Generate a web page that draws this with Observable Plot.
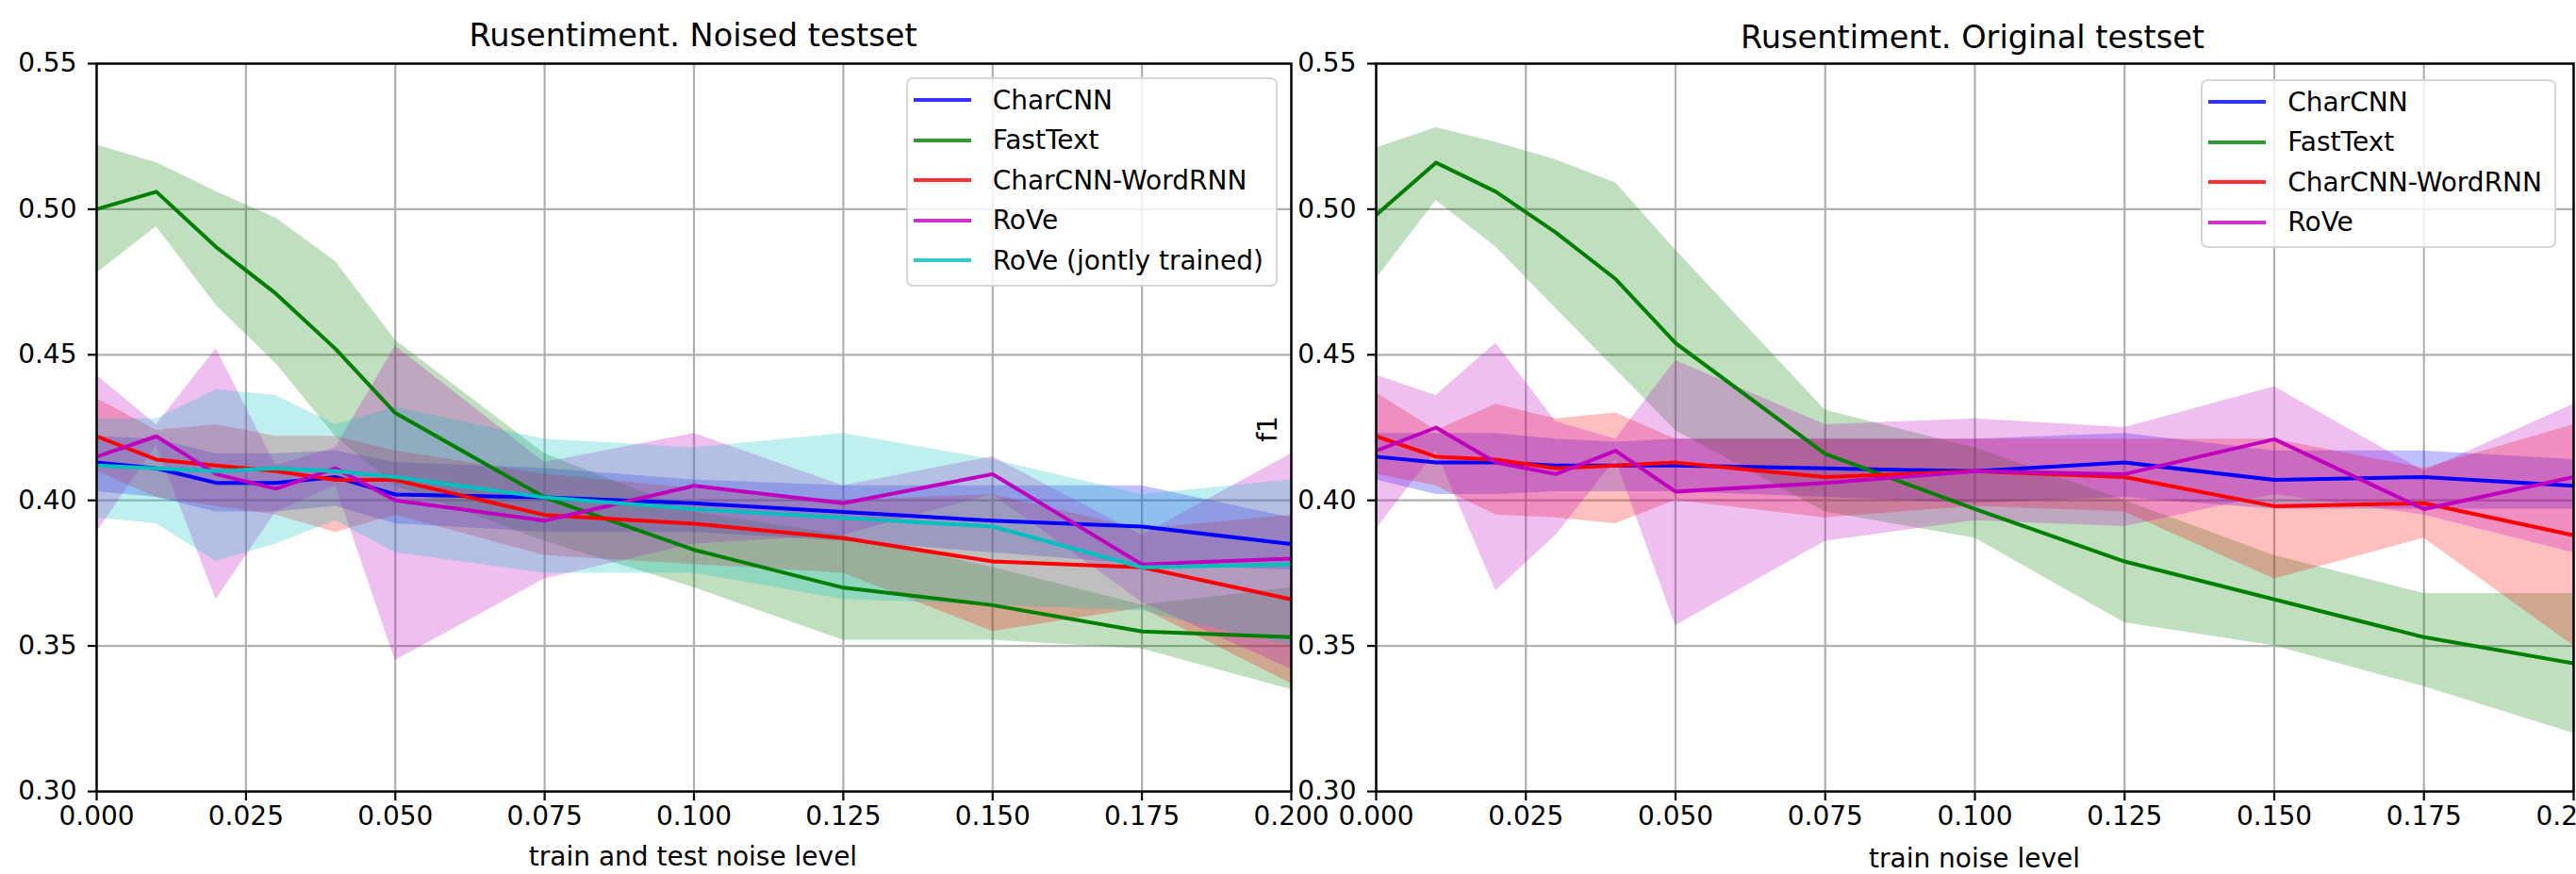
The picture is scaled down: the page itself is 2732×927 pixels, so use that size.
<!DOCTYPE html>
<html>
<head>
<meta charset="utf-8">
<script src="https://cdn.jsdelivr.net/npm/d3@7"></script>
<script src="https://cdn.jsdelivr.net/npm/@observablehq/plot@0.6"></script>
<style>
  html, body { margin: 0; padding: 0; background: #fff; }
  #fig { position: relative; width: 2732px; height: 927px; overflow: hidden; font-family: "DejaVu Sans", sans-serif; color: #000; }
  #fig svg { position: absolute; top: 0; max-width: none; }
  .title { position: absolute; font-size: 33.6px; transform: translate(-50%, -50%); white-space: nowrap; }
  .xlabel { position: absolute; font-size: 28px; transform: translate(-50%, -50%); white-space: nowrap; }
  .ylabel { position: absolute; font-size: 28px; transform: translate(-50%, -50%) rotate(-90deg); white-space: nowrap; }
  .legend { position: absolute; border: 2px solid #d6d6d6; border-radius: 7px; background: rgba(255,255,255,0.8); padding: 1px 13px 4px 6px; font-size: 28px; z-index: 5; }
  .legend .row { display: flex; align-items: center; height: 42.5px; white-space: nowrap; }
  .legend .sw { width: 61px; height: 4px; margin-right: 23px; opacity: 0.8; }
</style>
</head>
<body>
<div id="fig"></div>
<script>
// ---------- data ----------
const noiseLevels = [0, 0.01, 0.02, 0.03, 0.04, 0.05, 0.075, 0.1, 0.125, 0.15, 0.175, 0.2];
const xTicks = [0, 0.025, 0.05, 0.075, 0.1, 0.125, 0.15, 0.175, 0.2];
const yTicks = [0.30, 0.35, 0.40, 0.45, 0.50, 0.55];

const modelNames = ["CharCNN", "FastText", "CharCNN-WordRNN", "RoVe", "RoVe (jontly trained)"];
const modelColors = ["#0000ff", "#008000", "#ff0000", "#bf00bf", "#00bfbf"];

// Noised testset (left)
const noisedCharCNN     = [0.413, 0.411, 0.406, 0.406, 0.408, 0.402, 0.401, 0.399, 0.396, 0.393, 0.391, 0.385];
const noisedCharCNNLo   = [0.403, 0.401, 0.396, 0.396, 0.398, 0.392, 0.389, 0.389, 0.386, 0.382, 0.378, 0.376];
const noisedCharCNNHi   = [0.422, 0.421, 0.416, 0.416, 0.417, 0.413, 0.411, 0.407, 0.405, 0.405, 0.405, 0.394];
const noisedFastText    = [0.500, 0.506, 0.487, 0.471, 0.452, 0.430, 0.401, 0.383, 0.370, 0.364, 0.355, 0.353];
const noisedFastTextLo  = [0.478, 0.494, 0.467, 0.447, 0.422, 0.405, 0.386, 0.370, 0.352, 0.352, 0.349, 0.335];
const noisedFastTextHi  = [0.522, 0.516, 0.506, 0.497, 0.482, 0.455, 0.416, 0.396, 0.388, 0.377, 0.364, 0.370];
const noisedWordRNN     = [0.422, 0.414, 0.412, 0.410, 0.407, 0.407, 0.395, 0.392, 0.387, 0.379, 0.377, 0.366];
const noisedWordRNNLo   = [0.410, 0.401, 0.398, 0.395, 0.389, 0.395, 0.381, 0.378, 0.375, 0.355, 0.363, 0.337];
const noisedWordRNNHi   = [0.435, 0.424, 0.426, 0.422, 0.422, 0.417, 0.409, 0.404, 0.400, 0.402, 0.390, 0.395];
const noisedRoVe        = [0.415, 0.422, 0.409, 0.404, 0.411, 0.400, 0.393, 0.405, 0.399, 0.409, 0.378, 0.380];
const noisedRoVeLo      = [0.389, 0.419, 0.366, 0.396, 0.405, 0.345, 0.373, 0.385, 0.388, 0.402, 0.365, 0.342];
const noisedRoVeHi      = [0.443, 0.426, 0.452, 0.412, 0.418, 0.453, 0.413, 0.423, 0.405, 0.415, 0.388, 0.416];
const noisedRoVeJoint   = [0.412, 0.411, 0.410, 0.411, 0.410, 0.408, 0.401, 0.397, 0.394, 0.391, 0.377, 0.378];
const noisedRoVeJointLo = [0.394, 0.392, 0.379, 0.385, 0.393, 0.382, 0.375, 0.375, 0.366, 0.364, 0.362, 0.350];
const noisedRoVeJointHi = [0.428, 0.428, 0.438, 0.436, 0.426, 0.432, 0.421, 0.418, 0.423, 0.414, 0.402, 0.407];

// Original testset (right)
const origCharCNN     = [0.415, 0.413, 0.413, 0.412, 0.412, 0.412, 0.411, 0.410, 0.413, 0.407, 0.408, 0.405];
const origCharCNNLo   = [0.407, 0.402, 0.402, 0.403, 0.403, 0.403, 0.401, 0.399, 0.401, 0.397, 0.397, 0.397];
const origCharCNNHi   = [0.423, 0.423, 0.423, 0.421, 0.420, 0.421, 0.421, 0.421, 0.423, 0.417, 0.417, 0.414];
const origFastText    = [0.498, 0.516, 0.506, 0.492, 0.476, 0.454, 0.416, 0.397, 0.379, 0.366, 0.353, 0.344];
const origFastTextLo  = [0.476, 0.503, 0.487, 0.466, 0.445, 0.424, 0.396, 0.387, 0.358, 0.350, 0.336, 0.320];
const origFastTextHi  = [0.521, 0.528, 0.523, 0.517, 0.509, 0.486, 0.431, 0.418, 0.400, 0.381, 0.368, 0.368];
const origWordRNN     = [0.422, 0.415, 0.414, 0.411, 0.412, 0.413, 0.408, 0.410, 0.408, 0.398, 0.399, 0.388];
const origWordRNNLo   = [0.409, 0.405, 0.395, 0.394, 0.392, 0.400, 0.394, 0.398, 0.396, 0.373, 0.387, 0.350];
const origWordRNNHi   = [0.437, 0.424, 0.433, 0.428, 0.430, 0.421, 0.421, 0.421, 0.421, 0.421, 0.411, 0.426];
const origRoVe        = [0.417, 0.425, 0.413, 0.409, 0.417, 0.403, 0.406, 0.410, 0.409, 0.421, 0.397, 0.408];
const origRoVeLo      = [0.390, 0.417, 0.369, 0.388, 0.414, 0.357, 0.386, 0.393, 0.391, 0.402, 0.395, 0.382];
const origRoVeHi      = [0.443, 0.436, 0.454, 0.427, 0.421, 0.448, 0.426, 0.428, 0.425, 0.439, 0.410, 0.433];

// ---------- build tables ----------
function table(mean, lo, hi) {
  return noiseLevels.map((x, i) => ({x, mean: mean[i], lo: lo[i], hi: hi[i]}));
}
const leftSeries = [
  {name: modelNames[0], color: modelColors[0], rows: table(noisedCharCNN, noisedCharCNNLo, noisedCharCNNHi)},
  {name: modelNames[1], color: modelColors[1], rows: table(noisedFastText, noisedFastTextLo, noisedFastTextHi)},
  {name: modelNames[2], color: modelColors[2], rows: table(noisedWordRNN, noisedWordRNNLo, noisedWordRNNHi)},
  {name: modelNames[3], color: modelColors[3], rows: table(noisedRoVe, noisedRoVeLo, noisedRoVeHi)},
  {name: modelNames[4], color: modelColors[4], rows: table(noisedRoVeJoint, noisedRoVeJointLo, noisedRoVeJointHi)}
];
const rightSeries = [
  {name: modelNames[0], color: modelColors[0], rows: table(origCharCNN, origCharCNNLo, origCharCNNHi)},
  {name: modelNames[1], color: modelColors[1], rows: table(origFastText, origFastTextLo, origFastTextHi)},
  {name: modelNames[2], color: modelColors[2], rows: table(origWordRNN, origWordRNNLo, origWordRNNHi)},
  {name: modelNames[3], color: modelColors[3], rows: table(origRoVe, origRoVeLo, origRoVeHi)}
];

function panel(series, width, marginLeft, marginRight) {
  const marks = [
    Plot.gridX(xTicks, {stroke: "#b0b0b0", strokeOpacity: 1, strokeWidth: 2.2}),
    Plot.gridY(yTicks, {stroke: "#b0b0b0", strokeOpacity: 1, strokeWidth: 2.2})
  ];
  for (const s of series) {
    marks.push(Plot.areaY(s.rows, {x: "x", y1: "lo", y2: "hi", fill: s.color, fillOpacity: 0.25}));
  }
  for (const s of series) {
    marks.push(Plot.lineY(s.rows, {x: "x", y: "mean", stroke: s.color, strokeWidth: 4}));
  }
  marks.push(
    Plot.axisX(xTicks, {tickFormat: d3.format(".3f"), tickSize: 10, tickPadding: 6, fontSize: 28, strokeWidth: 2.2, label: null}),
    Plot.axisY(yTicks, {tickFormat: d3.format(".2f"), tickSize: 9, tickPadding: 12, fontSize: 28, strokeWidth: 2.2, label: null}),
    Plot.frame({stroke: "#000", strokeWidth: 2.4})
  );
  return Plot.plot({
    width, height: 927,
    marginLeft, marginRight, marginTop: 67, marginBottom: 88,
    x: {domain: [0, 0.2]},
    y: {domain: [0.30, 0.55]},
    clip: true,
    style: {fontFamily: "DejaVu Sans", fontSize: "28px", background: "none", color: "#000"},
    marks
  });
}

const fig = document.getElementById("fig");
const left = panel(leftSeries, 1430, 102, 61);
left.style.left = "0px";
fig.appendChild(left);
const right = panel(rightSeries, 1432, 159, 3);
right.style.left = "1300px";
fig.appendChild(right);

function addText(cls, text, x, y) {
  const d = document.createElement("div");
  d.className = cls; d.textContent = text;
  d.style.left = x + "px"; d.style.top = y + "px";
  fig.appendChild(d);
}
addText("title", "Rusentiment. Noised testset", 735, 37);
addText("title", "Rusentiment. Original testset", 2092, 39);
addText("xlabel", "train and test noise level", 735, 908);
addText("xlabel", "train noise level", 2094, 910);
addText("ylabel", "f1", 1344, 455);

function addLegend(series, right, top) {
  const lg = document.createElement("div");
  lg.className = "legend";
  lg.style.right = right + "px"; lg.style.top = top + "px";
  for (const s of series) {
    const r = document.createElement("div"); r.className = "row";
    const sw = document.createElement("span"); sw.className = "sw"; sw.style.background = s.color;
    const t = document.createElement("span"); t.textContent = s.name;
    r.appendChild(sw); r.appendChild(t); lg.appendChild(r);
  }
  fig.appendChild(lg);
}
addLegend(leftSeries, 2732 - 1355, 82);
addLegend(rightSeries, 2732 - 2711, 84);
</script>
</body>
</html>
